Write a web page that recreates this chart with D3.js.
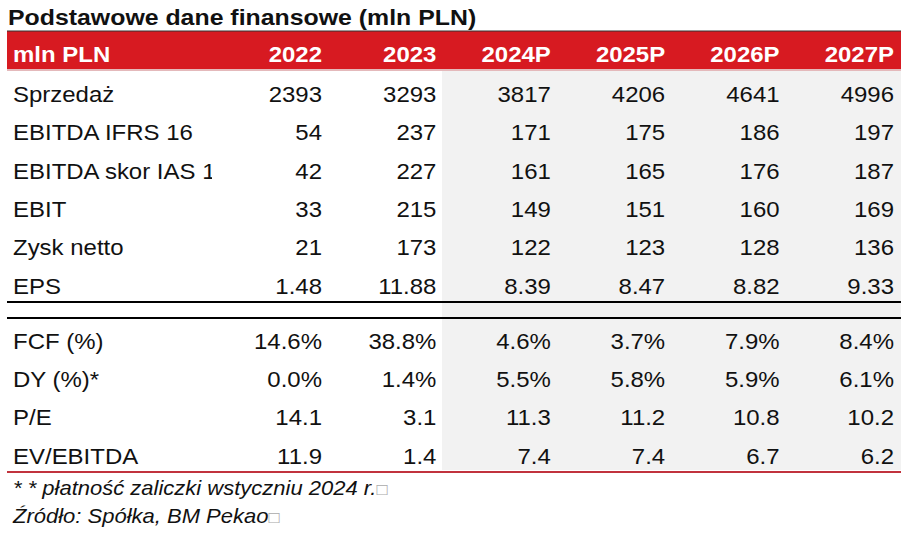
<!DOCTYPE html>
<html>
<head>
<meta charset="utf-8">
<script src="https://cdn.jsdelivr.net/npm/d3@7"></script>
<style>
  body { margin: 0; background: #fff; }
  text { font-family: "Liberation Sans", Arial, sans-serif; }
</style>
</head>
<body>
<svg width="913" height="534"></svg>
<script>
// table data
var title = "Podstawowe dane finansowe (mln PLN)";
var headerLabel = "mln PLN";
var columns = ["2022", "2023", "2024P", "2025P", "2026P", "2027P"];

var topLabels = ["Sprzedaż", "EBITDA IFRS 16", "EBITDA skor IAS 16", "EBIT", "Zysk netto", "EPS"];
var topValues = [
    ["2393", "3293", "3817", "4206", "4641", "4996"],
    ["54", "237", "171", "175", "186", "197"],
    ["42", "227", "161", "165", "176", "187"],
    ["33", "215", "149", "151", "160", "169"],
    ["21", "173", "122", "123", "128", "136"],
    ["1.48", "11.88", "8.39", "8.47", "8.82", "9.33"]
];

var bottomLabels = ["FCF (%)", "DY (%)*", "P/E", "EV/EBITDA"];
var bottomValues = [
    ["14.6%", "38.8%", "4.6%", "3.7%", "7.9%", "8.4%"],
    ["0.0%", "1.4%", "5.5%", "5.8%", "5.9%", "6.1%"],
    ["14.1", "3.1", "11.3", "11.2", "10.8", "10.2"],
    ["11.9", "1.4", "7.4", "7.4", "6.7", "6.2"]
];

var footnotes = ["* * płatność zaliczki wstyczniu 2024 r.", "Źródło: Spółka, BM Pekao"];

var svg = d3.select("svg");
var left = 7, right = 901, textX = 13;
var sx = 1.09; // the source font is a bit wider than Liberation Sans

// scales
var x = d3.scaleLinear().domain([0, columns.length - 1]).range([322, 894]);
var yTop = d3.scaleBand().domain(d3.range(topLabels.length)).range([75, 305]);
var yBot = d3.scaleBand().domain(d3.range(bottomLabels.length)).range([322, 475]);

function put(sel, tx, ty, k) {
    return sel.attr("transform", "translate(" + tx + "," + ty + ") scale(" + (k || sx) + ",1)");
}

// shaded forecast columns
svg.append("rect")
    .attr("x", 442).attr("y", 70)
    .attr("width", right - 442).attr("height", 400)
    .attr("fill", "#f2f2f2");

// title
put(svg.append("text"), 8, 25, 1.13)
    .attr("font-size", "22px")
    .attr("font-weight", "bold")
    .attr("fill", "#111")
    .text(title);

// header band
svg.append("rect")
    .attr("x", left).attr("y", 31)
    .attr("width", right - left).attr("height", 38)
    .attr("fill", "#d71a21");
svg.append("line")
    .attr("x1", left).attr("x2", right)
    .attr("y1", 31).attr("y2", 31)
    .attr("stroke", "#333").attr("stroke-width", 1);
svg.append("line")
    .attr("x1", left).attr("x2", right)
    .attr("y1", 70).attr("y2", 70)
    .attr("stroke", "#e4b9bb").attr("stroke-width", 2);

var header = svg.append("g")
    .attr("font-size", "22px")
    .attr("font-weight", "bold")
    .attr("fill", "#fff");
put(header.append("text"), textX, 62).text(headerLabel);
header.selectAll(".col")
    .data(columns)
    .enter()
    .append("text")
    .attr("class", "col")
    .attr("text-anchor", "end")
    .each(function (d, i) { put(d3.select(this), x(i), 62); })
    .text(function (d) { return d; });

// clip for the cut-off row label (first column is narrow)
svg.append("clipPath").attr("id", "labelClip")
    .append("rect").attr("x", 0).attr("y", 0).attr("width", 212).attr("height", 534);

function drawBlock(labels, values, y) {
    var g = svg.append("g")
        .attr("font-size", "22px")
        .attr("fill", "#111");
    var lab = g.append("g").attr("clip-path", "url(#labelClip)");
    labels.forEach(function (label, r) {
        var cy = y(r) + y.bandwidth() / 2 + 7.7;
        put(lab.append("text"), textX, cy).text(label);
        g.selectAll(null)
            .data(values[r])
            .enter()
            .append("text")
            .attr("text-anchor", "end")
            .each(function (d, i) { put(d3.select(this), x(i), cy); })
            .text(function (d) { return d; });
    });
}
drawBlock(topLabels, topValues, yTop);
drawBlock(bottomLabels, bottomValues, yBot);

// separators
[302, 318].forEach(function (yy) {
    svg.append("line")
        .attr("x1", left).attr("x2", right)
        .attr("y1", yy).attr("y2", yy)
        .attr("stroke", "#000").attr("stroke-width", 2);
});
svg.append("line")
    .attr("x1", left).attr("x2", right)
    .attr("y1", 472).attr("y2", 472)
    .attr("stroke", "#c1333d").attr("stroke-width", 2);

// footnotes
var notes = svg.append("g")
    .attr("font-size", "20px")
    .attr("font-style", "italic")
    .attr("fill", "#111");
footnotes.forEach(function (t, i) {
    var tx = put(notes.append("text"), textX, 495 + i * 28, 1.1);
    tx.append("tspan").text(t);
    tx.append("tspan").attr("fill", "#aaa").attr("font-style", "normal").attr("font-size", "17px").text("\u25A1");
});
</script>
</body>
</html>
